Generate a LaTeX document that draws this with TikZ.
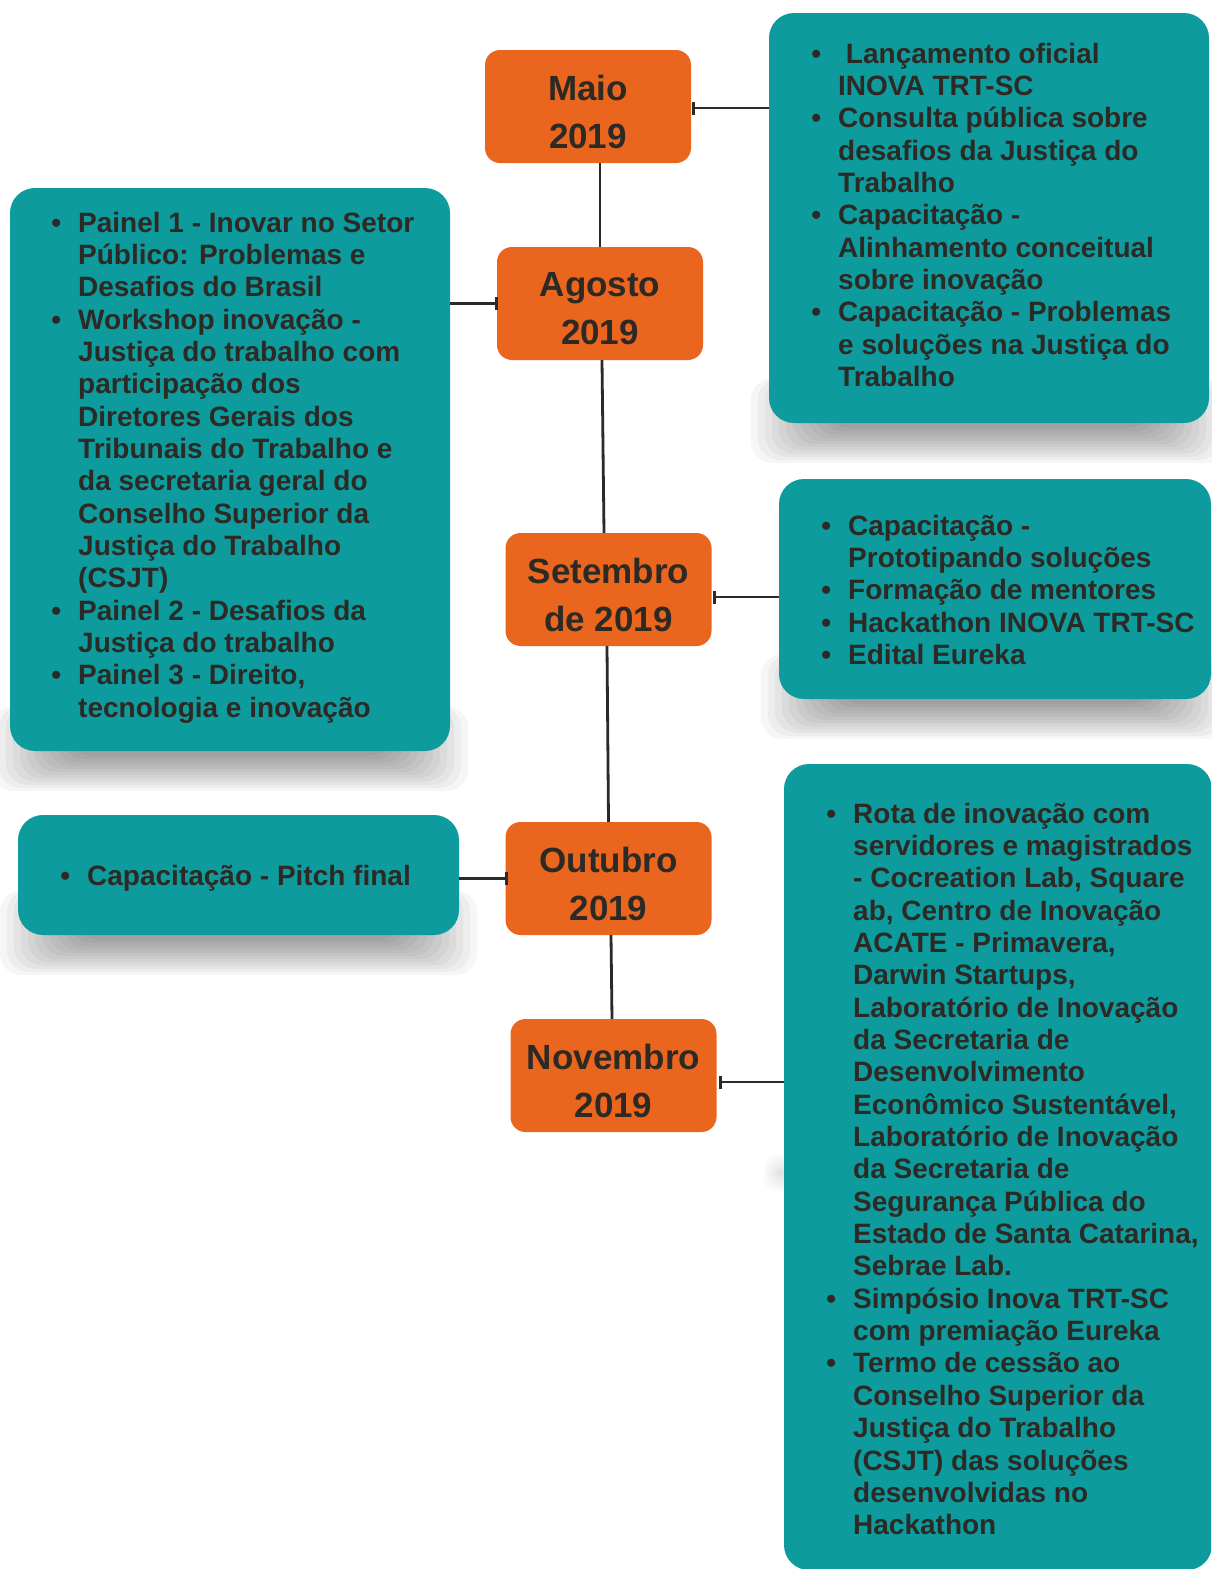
\documentclass[tikz,border=0pt]{standalone}
\usepackage{fontspec}
\setmainfont{Liberation Sans}
\usetikzlibrary{arrows.meta,calc}
\definecolor{tealbox}{RGB}{14,155,157}
\definecolor{orangebox}{RGB}{234,102,30}
\definecolor{ink}{RGB}{45,41,36}
\pgfdeclarelayer{bgpaper}
\pgfdeclarelayer{bgshadow}
\pgfsetlayers{bgpaper,bgshadow,main}
\newcommand{\bul}{\leavevmode\llap{\textbullet\hspace{17pt}}}
\newcommand{\boxshadow}[1]{%
  \begin{pgfonlayer}{bgshadow}
  \foreach \i in {0,...,11}{%
    \fill[black, opacity=0.035, rounded corners=22pt]
      ($(#1.south west)+({-18+7*\i},{40-3.2*\i})$) rectangle ($(#1.south east)+({18-7*\i},-45)$);
  }
  \end{pgfonlayer}}
\tikzset{
 monthbox/.style={rectangle, fill=orangebox, rounded corners=15pt, minimum width=206pt, minimum height=113pt, inner sep=0pt},
 monthtext/.style={font=\bfseries\fontsize{35}{48}\selectfont, text=ink, align=center, inner sep=0pt},
 infobox/.style={rectangle, fill=tealbox, rounded corners=25pt, inner sep=0pt},
 infotext/.style={anchor=base west, inner sep=0pt, text=ink, font=\bfseries\fontsize{28}{32.35}\selectfont},
 conn/.style={draw=ink, line width=2.8pt},
 tipconn/.style={conn, -{Bar[width=13pt,line width=3pt]}},
}
\begin{document}
\begin{tikzpicture}[x=1pt,y=-1pt]
\useasboundingbox (0,0) rectangle (1211,1569);
\clip (0,0) rectangle (1211,1569);
\begin{pgfonlayer}{bgpaper}
\fill[white] (0,0) rectangle (1211,1569);
\end{pgfonlayer}

% info boxes
\node[infobox, minimum width=440pt, minimum height=410pt] (right1) at (989,218) {};
\node[infobox, minimum width=440pt, minimum height=563pt] (left1) at (230,469.5) {};
\node[infobox, minimum width=432pt, minimum height=220pt] (right2) at (995,589) {};
\node[infobox, minimum width=441pt, minimum height=120pt] (left2) at (238.5,875) {};
\node[infobox, minimum width=428pt, minimum height=806pt] (right3) at (998,1167) {};
\boxshadow{right1}
\boxshadow{left1}
\boxshadow{right2}
\boxshadow{left2}
\begin{pgfonlayer}{bgshadow}
\foreach \i in {0,...,5}{%
  \fill[black, opacity=0.02, rounded corners=14pt]
    ($(right3.west |- 0,1192)+({-20+3*\i},{-3*\i})$) rectangle ($(right3.west |- 0,1155)+(40,{3*\i})$);
}
\end{pgfonlayer}

% month boxes
\node[monthbox] (maio) at (588,106.5) {};
\node[monthbox] (agosto) at (600,303.5) {};
\node[monthbox] (setembro) at (608.5,589.5) {};
\node[monthbox] (outubro) at (608.5,878.5) {};
\node[monthbox] (novembro) at (613.5,1075.5) {};

\node[monthtext] (maio-t) at ([yshift=-5pt]maio.center) {Maio\\2019};
\node[monthtext] (agosto-t) at ([yshift=-5pt]agosto.center) {Agosto\\2019};
\node[monthtext] (setembro-t) at ([yshift=-5pt]setembro.center) {Setembro\\de 2019};
\node[monthtext] (outubro-t) at ([yshift=-5pt]outubro.center) {Outubro\\2019};
\node[monthtext] (novembro-t) at ([yshift=-5pt]novembro.center) {Novembro\\2019};

% timeline
\draw[conn] ([xshift=12pt]maio.south) -- (agosto.north);
\draw[conn] ([xshift=2pt]agosto.south) -- ([xshift=-4.5pt]setembro.north);
\draw[conn] ([xshift=-1.5pt]setembro.south) -- (outubro.north);
\draw[conn] ([xshift=2.5pt]outubro.south) -- ([xshift=-1.5pt]novembro.north);

% side connectors
\draw[tipconn] (right1.west |- 0,108) -- ([xshift=1pt]maio.east |- 0,108);
\draw[tipconn] (left1.east |- agosto.west) -- ([xshift=1.5pt]agosto.west);
\draw[tipconn] (right2.west |- 0,597) -- ([xshift=1pt]setembro.east |- 0,597);
\draw[tipconn] (left2.east |- outubro.west) -- ([xshift=2.5pt]outubro.west);
\draw[tipconn] (right3.west |- 0,1082) -- ([xshift=2pt]novembro.east |- 0,1082);

% texts
\node[infotext] (right1-t) at (838,63) {\parbox[t]{420pt}{\raggedright
\bul\hspace*{7.8pt}Lançamento oficial\\
INOVA TRT-SC\\
\bul Consulta pública sobre\\
desafios da Justiça do\\
Trabalho\\
\bul Capacitação -\\
Alinhamento conceitual\\
sobre inovação\\
\bul Capacitação - Problemas\\
e soluções na Justiça do\\
Trabalho}};

\node[infotext] (left1-t) at (78,232) {\parbox[t]{420pt}{\raggedright
\bul Painel 1 - Inovar no Setor\\
Público: Problemas e\\
Desafios do Brasil\\
\bul Workshop inovação -\\
Justiça do trabalho com\\
participação dos\\
Diretores Gerais dos\\
Tribunais do Trabalho e\\
da secretaria geral do\\
Conselho Superior da\\
Justiça do Trabalho\\
(CSJT)\\
\bul Painel 2 - Desafios da\\
Justiça do trabalho\\
\bul Painel 3 - Direito,\\
tecnologia e inovação}};

\node[infotext] (right2-t) at (848,535) {\parbox[t]{420pt}{\raggedright
\bul Capacitação -\\
Prototipando soluções\\
\bul Formação de mentores\\
\bul Hackathon INOVA TRT-SC\\
\bul Edital Eureka}};

\node[infotext] (left2-t) at (87,885) {\parbox[t]{420pt}{\raggedright
\bul Capacitação - Pitch final}};

\node[infotext] (right3-t) at (853,823) {\parbox[t]{420pt}{\raggedright
\bul Rota de inovação com\\
servidores e magistrados\\
- Cocreation Lab, Square\\
ab, Centro de Inovação\\
ACATE - Primavera,\\
Darwin Startups,\\
Laboratório de Inovação\\
da Secretaria de\\
Desenvolvimento\\
Econômico Sustentável,\\
Laboratório de Inovação\\
da Secretaria de\\
Segurança Pública do\\
Estado de Santa Catarina,\\
Sebrae Lab.\\
\bul Simpósio Inova TRT-SC\\
com premiação Eureka\\
\bul Termo de cessão ao\\
Conselho Superior da\\
Justiça do Trabalho\\
(CSJT) das soluções\\
desenvolvidas no\\
Hackathon}};
\end{tikzpicture}
\end{document}
